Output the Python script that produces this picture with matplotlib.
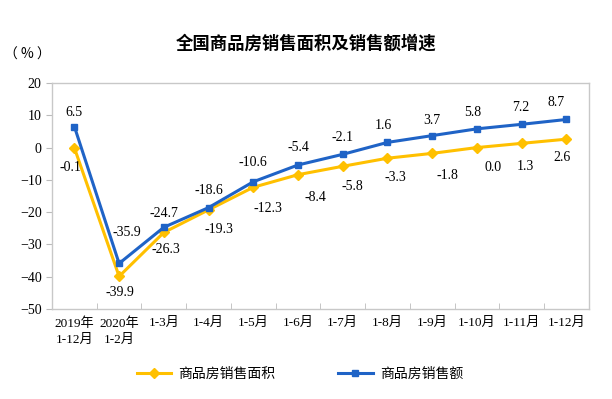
import matplotlib
matplotlib.use("Agg")
import matplotlib.pyplot as plt

plt.rcParams['font.family'] = ['Liberation Serif', 'Noto Sans CJK SC']

categories = ["2019年\n1-12月", "2020年\n1-2月", "1-3月", "1-4月", "1-5月", "1-6月",
              "1-7月", "1-8月", "1-9月", "1-10月", "1-11月", "1-12月"]
area_growth = [-0.1, -39.9, -26.3, -19.3, -12.3, -8.4, -5.8, -3.3, -1.8, 0.0, 1.3, 2.6]
sales_growth = [6.5, -35.9, -24.7, -18.6, -10.6, -5.4, -2.1, 1.6, 3.7, 5.8, 7.2, 8.7]

# label offsets in pixels (dx, dy)
area_offsets = [(-4, -20), (1, -16), (2, -17), (10, -20), (15, -21), (17, -23),
                (10, -20), (8, -19), (15, -22), (16, -20), (4, -23), (-4, -18)]
sales_offsets = [(0, 14), (8, 31), (0, 14), (0, 17), (0, 19), (0, 17),
                 (0, 17), (-4, 17), (0, 15), (-4, 16), (-1, 17), (-10, 17)]

yellow = "#FFC000"
blue = "#1F63C6"

fig = plt.figure(figsize=(6.12, 3.99), dpi=100)
ax = fig.add_axes([0.085, 0.2256, 0.877, 0.5664])

x = list(range(len(categories)))
ax.plot(x, area_growth, color=yellow, lw=2.2, marker='D', ms=5, label="商品房销售面积", zorder=3)
ax.plot(x, sales_growth, color=blue, lw=2.2, marker='s', ms=5, label="商品房销售额", zorder=4)

for i, v in enumerate(area_growth):
    ax.annotate(f"{v:.1f}", (i, v), xytext=area_offsets[i], textcoords='offset pixels',
                ha='center', va='center', fontsize=10)
for i, v in enumerate(sales_growth):
    ax.annotate(f"{v:.1f}", (i, v), xytext=sales_offsets[i], textcoords='offset pixels',
                ha='center', va='center', fontsize=10)

ax.set_xlim(-0.5, len(categories) - 0.5)
ax.set_ylim(-50, 20)
ax.set_yticks(range(-50, 21, 10))
ax.set_xticks(x)
ax.set_xticklabels(categories, fontsize=9.5, linespacing=1.4)
ax.set_xticks([i + 0.5 for i in range(len(categories) - 1)], minor=True)
ax.tick_params(axis='x', which='major', length=0, pad=6)
ax.tick_params(axis='x', which='minor', direction='in', length=4, color='#BBBBBB')
ax.tick_params(axis='y', direction='out', length=4, color='#BBBBBB', labelsize=10)

for s in ax.spines.values():
    s.set_color('#C8C8C8')
    s.set_linewidth(1)

fig.text(0.045, 0.862, "（ % ）", fontsize=10, ha='center', va='center',
         family=['Noto Sans CJK SC'])
fig.text(0.5, 0.89, "全国商品房销售面积及销售额增速", fontsize=12.5, ha='center', va='center',
         family=['Noto Sans CJK SC'], weight='bold')

leg = fig.legend(loc='center', bbox_to_anchor=(0.49, 0.062), ncol=2, frameon=False,
                 fontsize=10, handlelength=2.5, columnspacing=4.5, handletextpad=0.5)

fig.savefig("out.png", dpi=100)
